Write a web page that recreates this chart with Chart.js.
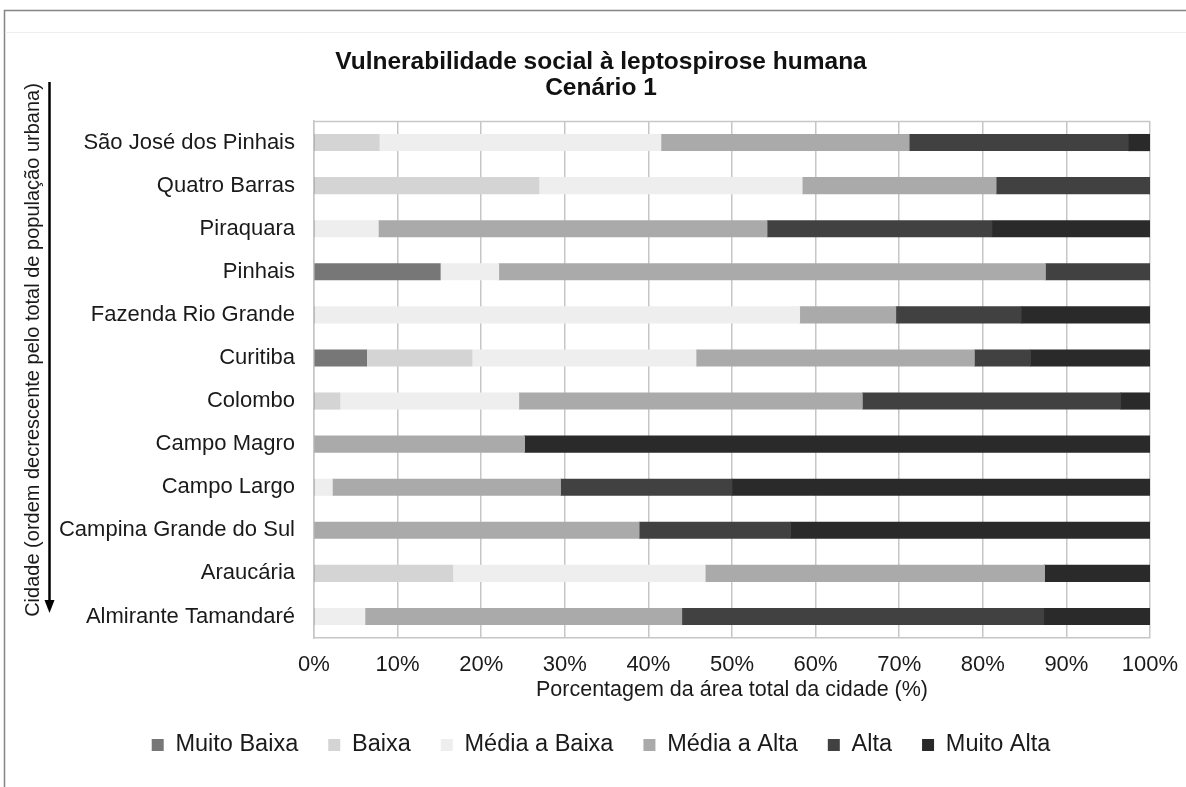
<!DOCTYPE html>
<html><head><meta charset="utf-8">
<script src="https://cdn.jsdelivr.net/npm/chart.js@4.4.1/dist/chart.umd.min.js"></script>
<style>html,body{margin:0;padding:0;background:#fff;}canvas{display:block;}</style>
</head><body>
<canvas id="c" width="1186" height="787"></canvas>
<script>
// ---- data ----
const categories = ['São José dos Pinhais','Quatro Barras','Piraquara','Pinhais','Fazenda Rio Grande','Curitiba','Colombo','Campo Magro','Campo Largo','Campina Grande do Sul','Araucária','Almirante Tamandaré'];
const seriesNames = ['Muito Baixa','Baixa','Média a Baixa','Média a Alta','Alta','Muito Alta'];
const muitoBaixa = [0,0,0,15.1,0,6.3,0,0,0,0,0,0];
const baixa      = [7.8,26.9,0,0,0,12.6,3.1,0,0,0,16.6,0];
const mediaBaixa = [33.7,31.5,7.7,7.0,58.1,26.8,21.4,0,2.2,0,30.2,6.1];
const mediaAlta  = [29.7,23.2,46.5,65.4,11.5,33.3,41.1,25.2,27.3,38.9,40.6,37.9];
const alta       = [26.2,18.4,26.9,12.5,15.0,6.7,30.9,0,20.5,18.1,0,43.3];
const muitoAlta  = [2.6,0,18.9,0,15.4,14.3,3.5,74.8,50.0,43.0,12.6,12.7];
const xTickValues = [0,10,20,30,40,50,60,70,80,90,100];
const titleLines = ['Vulnerabilidade social à leptospirose humana','Cenário 1'];
const xTitle = 'Porcentagem da área total da cidade (%)';
const yTitle = 'Cidade (ordem decrescente pelo total de população urbana)';

const colors = ['#777777','#d4d4d4','#eeeeee','#aaaaaa','#414141','#2a2a2a'];
const seriesValues = [muitoBaixa, baixa, mediaBaixa, mediaAlta, alta, muitoAlta];

const FONT = '"Liberation Sans", Arial, Helvetica, sans-serif';
Chart.defaults.font.family = FONT;
Chart.defaults.color = '#1a1a1a';

const decorPlugin = {
  id: 'decor',
  beforeDraw(chart) {
    const ctx = chart.ctx;
    ctx.save();
    ctx.fillStyle = '#ffffff';
    ctx.fillRect(0, 0, chart.width, chart.height);
    ctx.strokeStyle = '#858585';
    ctx.lineWidth = 1.5;
    ctx.beginPath();
    ctx.moveTo(4.5, chart.height);
    ctx.lineTo(4.5, 10.5);
    ctx.lineTo(chart.width, 10.5);
    ctx.stroke();
    ctx.strokeStyle = '#efefef';
    ctx.lineWidth = 1;
    ctx.beginPath();
    ctx.moveTo(5, 32.5);
    ctx.lineTo(chart.width, 32.5);
    ctx.stroke();
    ctx.restore();
  },
  beforeDatasetsDraw(chart) {
    const ctx = chart.ctx, a = chart.chartArea;
    ctx.save();
    ctx.strokeStyle = '#c8c8c8';
    ctx.lineWidth = 1.5;
    ctx.beginPath();
    ctx.moveTo(a.left, a.top + 0.5);
    ctx.lineTo(a.right, a.top + 0.5);
    ctx.stroke();
    ctx.restore();
  },
  afterDraw(chart) {
    const ctx = chart.ctx;
    ctx.save();
    ctx.translate(33, 350);
    ctx.rotate(-Math.PI / 2);
    ctx.font = '20px ' + FONT;
    ctx.fillStyle = '#1a1a1a';
    ctx.textAlign = 'center';
    ctx.textBaseline = 'middle';
    ctx.fillText(yTitle, 0, 0);
    ctx.restore();
    ctx.save();
    ctx.strokeStyle = '#000';
    ctx.fillStyle = '#000';
    ctx.lineWidth = 2.5;
    ctx.beginPath();
    ctx.moveTo(49.5, 82);
    ctx.lineTo(49.5, 603);
    ctx.stroke();
    ctx.beginPath();
    ctx.moveTo(44.5, 600);
    ctx.lineTo(54.5, 600);
    ctx.lineTo(49.5, 613);
    ctx.closePath();
    ctx.fill();
    ctx.restore();
  }
};

new Chart(document.getElementById('c'), {
  type: 'bar',
  data: {
    labels: categories,
    datasets: seriesNames.map((name, i) => ({
      label: name,
      data: seriesValues[i],
      backgroundColor: colors[i],
      borderWidth: 0,
      barThickness: 16.5
    }))
  },
  options: {
    indexAxis: 'y',
    responsive: false,
    animation: false,
    events: [],
    layout: { padding: { top: 0, left: 52, right: 36, bottom: 20.25 } },
    scales: {
      x: {
        stacked: true,
        min: 0, max: 100,
        afterBuildTicks(scale) { scale.ticks = xTickValues.map(v => ({ value: v })); },
        afterFit(scale) { scale.height = 65.25; },
        grid: { color: '#c6c6c6', lineWidth: 1.5, drawTicks: false },
        border: { color: '#c6c6c6', width: 1.5 },
        ticks: {
          padding: 7,
          color: '#1a1a1a',
          font: { size: 22, lineHeight: '40px' },
          maxRotation: 0,
          callback: v => v + '%'
        },
        title: {
          display: true,
          text: xTitle,
          color: '#1a1a1a',
          font: { size: 21.5 },
          padding: { top: 0, bottom: 0 }
        }
      },
      y: {
        stacked: true,
        afterFit(scale) { scale.width = 262; },
        grid: { display: false, drawTicks: false },
        border: { color: '#c6c6c6', width: 1.5 },
        ticks: {
          padding: 19,
          color: '#1a1a1a',
          font: { size: 22 },
          autoSkip: false
        }
      }
    },
    plugins: {
      title: {
        display: true,
        text: titleLines,
        color: '#111',
        font: { size: 24.5, weight: 'bold', lineHeight: '26px' },
        padding: { top: 49, bottom: 20 }
      },
      legend: {
        position: 'bottom',
        labels: {
          boxWidth: 12,
          boxHeight: 12,
          padding: 30,
          color: '#1a1a1a',
          font: { size: 23.5 }
        }
      },
      tooltip: { enabled: false }
    }
  },
  plugins: [decorPlugin]
});
</script>
</body></html>
